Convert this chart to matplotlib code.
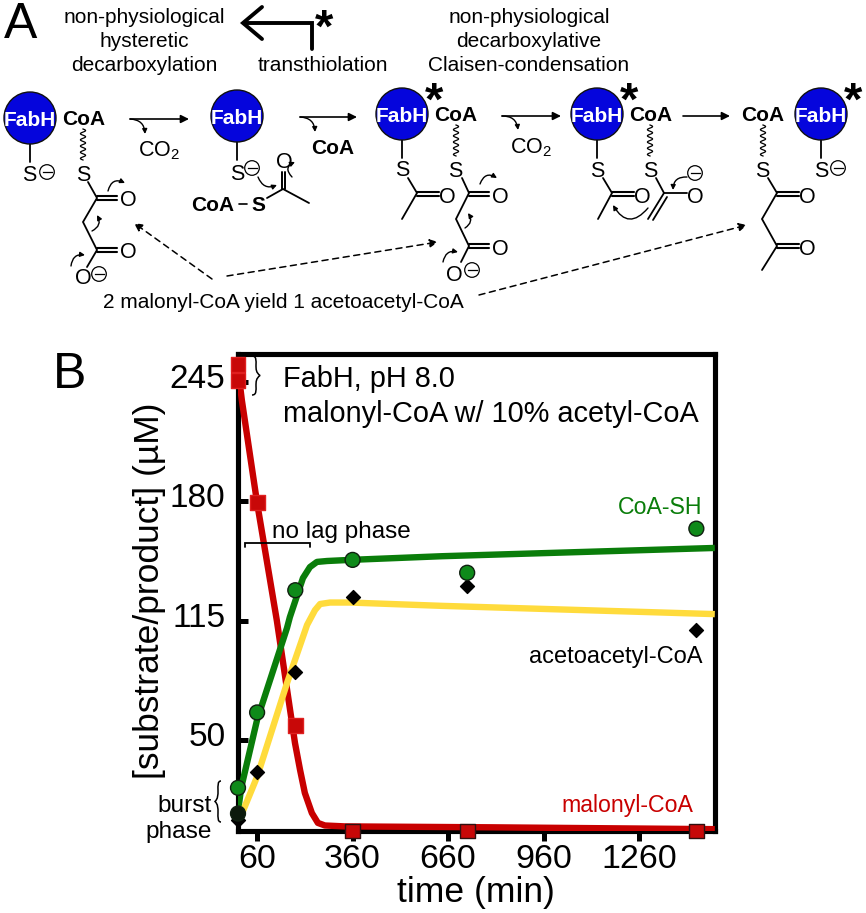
import numpy as np
import matplotlib
matplotlib.use("Agg")
import matplotlib.pyplot as plt
from matplotlib.patches import Circle, FancyArrowPatch, PathPatch
from matplotlib.path import Path
from matplotlib.transforms import ScaledTranslation

plt.rcParams['font.family'] = ['Liberation Sans', 'DejaVu Sans']
plt.rcParams['mathtext.default'] = 'regular'

# measured points, panel B
malonyl_t = [0, 0, 60, 180, 360, 720, 1440]
malonyl = [254.5, 245.5, 179, 58, 0.5, 0.5, 0.5]
malonyl_edge = ['#e02020', '#e02020', '#e02020', '#e02020', '#301010', '#301010', '#301010']
coash_t = [0, 0, 60, 180, 360, 720, 1440]
coash = [24, 10, 65, 131.5, 148, 141, 165]
coash_fill = ['#0f8a1a', '#0c1a0c', '#0f8a1a', '#0f8a1a', '#0f8a1a', '#0f8a1a', '#0f8a1a']
aceto_t = [0, 60, 180, 360, 720, 1440]
aceto = [6.5, 32.5, 87, 128, 134, 110]

# fitted curves, panel B
malonyl_fit_t = [0, 12, 60, 122, 179, 195, 210, 232, 251, 273, 336, 800, 1498]
malonyl_fit = [252, 235, 179, 115, 48.4, 33.7, 21.2, 10.3, 4.9, 3.5, 3, 2.5, 1.5]
coash_fit_t = [0, 10, 60, 154, 163, 204, 226, 248, 280, 352, 640, 1498]
coash_fit = [11, 24, 61, 111, 116.9, 138.1, 144.1, 146.9, 147.4, 148, 150, 154.5]
aceto_fit_t = [10, 60, 154, 217, 242, 258, 289, 352, 640, 1498]
aceto_fit = [9, 30, 81, 112.6, 120.7, 124, 124.8, 124.8, 123, 118.5]

x_ticks = [60, 360, 660, 960, 1260]
y_ticks = [50, 115, 180, 245]

FIG_W, FIG_H = 866, 913
L, R, T, B = 238, 715, 354, 831

fig = plt.figure(figsize=(FIG_W / 100, FIG_H / 100), dpi=100)

ax = fig.add_axes([L / FIG_W, 1 - B / FIG_H, (R - L) / FIG_W, (B - T) / FIG_H])
ax.set_xlim(0, (R - L) / 0.3183)
ax.set_ylim(0.5, (B - T) / 1.838 + 0.5)

ax.plot(malonyl_fit_t, malonyl_fit, color='#c80000', lw=4.6, solid_capstyle='butt',
        solid_joinstyle='round', zorder=3)
ax.plot(aceto_fit_t, aceto_fit, color='#ffdb3c', lw=4.6, solid_capstyle='butt',
        solid_joinstyle='round', zorder=3.2)
ax.plot(coash_fit_t, coash_fit, color='#0a7d0a', lw=4.6, solid_capstyle='butt',
        solid_joinstyle='round', zorder=3.1)

ax.scatter(aceto_t, aceto, marker='D', s=50, color='black', zorder=5, clip_on=False)
ax.scatter(coash_t, coash, marker='o', s=115, c=coash_fill, edgecolors='#102010',
           linewidths=1, zorder=6, clip_on=False)
ax.scatter(malonyl_t, malonyl, marker='s', s=115, color='#c80808', edgecolors=malonyl_edge,
           linewidths=1, zorder=7, clip_on=False)

for s in ax.spines.values():
    s.set_linewidth(3.7)
ax.set_xticks(x_ticks)
ax.set_yticks(y_ticks)
ax.tick_params(axis='x', direction='out', length=7, width=3.6, labelsize=24.5, pad=2)
ax.tick_params(axis='y', direction='in', length=7, width=3.6, labelsize=24, pad=9)
# y numbers sit a little above their ticks in the original
for lab in ax.get_yticklabels():
    lab.set_transform(lab.get_transform() + ScaledTranslation(0, 6 / 100, fig.dpi_scale_trans))
ax.set_xlabel('time (min)', fontsize=25.5)
ax.xaxis.set_label_coords((476 - L) / (R - L), -(902 - B) / (B - T))
ax.xaxis.label.set_va('baseline')
ax.set_ylabel('[substrate/product] (µM)', fontsize=25.5)
ax.yaxis.set_label_coords(-(238 - 159) / (R - L), (B - 591) / (B - T))
ax.yaxis.label.set_va('baseline')

# overlay in picture pixels for the scheme and the notes
ov = fig.add_axes([0, 0, 1, 1], zorder=10)
ov.set_xlim(0, FIG_W)
ov.set_ylim(FIG_H, 0)
ov.axis('off')
ov.patch.set_alpha(0)


def txt(x, y, s, size=15, ha='center', color='black', weight='normal'):
    return ov.text(x, y, s, fontsize=size, ha=ha, va='baseline', color=color, fontweight=weight)


def atom(x, y, s, size=15.5, weight='normal'):
    # y is the middle of the capital letter
    txt(x, y + 0.358 * size * 100 / 72, s, size=size, weight=weight)


def bonds(*segs, lw=1.3):
    for seg in segs:
        xs, ys = zip(*seg)
        ov.plot(xs, ys, color='black', lw=lw, solid_capstyle='round', solid_joinstyle='miter')


def double(x0, y0, x1, y1, gap=1.8):
    bonds([(x0, y0 - gap), (x1, y1 - gap)], [(x0, y0 + gap), (x1, y1 + gap)], lw=1.5)


def minus(x, y):
    ov.add_patch(Circle((x, y), 7.3, fc='white', ec='black', lw=0.9, zorder=4))
    ov.plot([x - 4.5, x + 4.5], [y, y], color='black', lw=0.9, zorder=5)


def star(x, y):
    # y is the middle of the asterisk
    txt(x, y + 23, '*', size=34, weight='bold')


def fabh(x, y, mark=False):
    ov.add_patch(Circle((x, y), 26, fc='#0505dc', ec='#101010', lw=1, zorder=3))
    ov.text(x, y + 7.5, 'FabH', fontsize=15, fontweight='bold', color='white', ha='center',
            va='baseline', zorder=4)
    bonds([(x, y + 26), (x, y + 44)])
    if mark:
        star(x + 32, y - 22)


def coa(x, y):
    atom(x, y, 'CoA', size=15, weight='bold')


def wavy(x, y0, y1):
    yy = np.linspace(y0, y1, 90)
    ov.plot(x + 2.6 * np.sin((yy - y0) / (y1 - y0) * 2 * np.pi * 5), yy, color='black', lw=0.9)


def curl(p0, p1, rad=0.4, lw=1.0):
    ov.add_patch(FancyArrowPatch(p0, p1, connectionstyle=f'arc3,rad={rad}', arrowstyle='-|>',
                                 mutation_scale=7, lw=lw, color='black', shrinkA=0, shrinkB=0))


def straight(p0, p1, ls='-', lw=1.2):
    ov.add_patch(FancyArrowPatch(p0, p1, arrowstyle='-|>', mutation_scale=12, lw=lw, ls=ls,
                                 color='black', shrinkA=0, shrinkB=0))


def brace(x, y0, y1, w, lw=1.1):
    # opens to the left for w > 0, to the right for w < 0
    m = (y0 + y1) / 2
    verts = [(x, y0), (x + w * 0.6, y0), (x + w * 0.5, y0 + 5), (x + w * 0.5, y0 + 9),
             (x + w * 0.5, m - 6), (x + w * 0.5, m - 3), (x + w, m),
             (x + w * 0.5, m + 3), (x + w * 0.5, m + 6), (x + w * 0.5, y1 - 9),
             (x + w * 0.5, y1 - 5), (x + w * 0.6, y1), (x, y1)]
    codes = [Path.MOVETO] + [Path.CURVE4] * 12
    ov.add_patch(PathPatch(Path(verts, codes), fc='none', ec='black', lw=lw))


# panel letters
txt(21, 38, 'A', size=36)
txt(70, 388, 'B', size=36)

# headings of panel A
txt(144, 23, 'non-physiological')
txt(144, 47, 'hysteretic')
txt(144, 71, 'decarboxylation')
txt(323, 71, 'transthiolation')
txt(529, 23, 'non-physiological')
txt(529, 47, 'decarboxylative')
txt(529, 71, 'Claisen-condensation')

bonds([(312, 49), (312, 23), (244, 23)], lw=2.8)
bonds([(262, 7), (243, 23), (262, 39)], lw=2.8)
star(324, 19)

# first species
fabh(30, 118)
atom(29, 173, 'S')
minus(47, 172)
coa(84, 118)
wavy(83, 129, 160)
atom(83, 173, 'S')
bonds([(88, 182), (97, 198), (83, 222), (97, 250), (87, 267)])
double(97, 198, 117, 198)
double(97, 250, 117, 250)
atom(128, 198, 'O')
atom(128, 250, 'O')
atom(83, 276, 'O')
minus(99, 274)
curl((108, 191), (125, 183), rad=-0.6)
curl((92, 231), (97, 215), rad=0.5)
curl((71, 266), (85, 255), rad=-0.5)

straight((130, 119), (189, 119))
curl((130, 119), (145, 134), rad=-0.45)
txt(159, 156, 'CO$_2$', size=15.5)

# second species
fabh(237, 116)
atom(237, 172, 'S')
minus(252, 168)
coa(333, 147)
atom(213, 204, 'CoA', size=15, weight='bold')
bonds([(239, 204), (247, 204)], lw=1.2)
atom(258, 204, 'S', size=15, weight='bold')
bonds([(267, 198), (283, 189), (309, 203)])
bonds([(281.5, 189), (281.5, 172)], [(285, 189), (285, 172)], lw=1.4)
atom(284, 160, 'O')
curl((258, 177), (277, 185), rad=0.5)
curl((292, 177), (295, 162), rad=-0.7)

straight((300, 117), (357, 117))
curl((300, 117), (315, 132), rad=-0.45)

# third species
fabh(402, 114, mark=True)
atom(402, 168, 'S')
bonds([(408, 178), (417, 193), (402, 219)])
double(417, 194, 439, 194)
atom(447, 195, 'O')
coa(456, 114)
wavy(456, 125, 156)
atom(455, 169, 'S')
bonds([(462, 178), (469, 193), (456, 219), (469, 246), (461, 262)])
double(469, 194, 489, 194)
double(469, 246, 489, 246)
atom(500, 195, 'O')
atom(500, 247, 'O')
atom(454, 273, 'O')
minus(472, 270)
curl((480, 184), (497, 178), rad=-0.6)
curl((465, 228), (468, 213), rad=0.5)
curl((443, 262), (458, 252), rad=-0.5)

straight((502, 116), (561, 116))
curl((502, 116), (518, 130), rad=-0.45)
txt(531, 153, 'CO$_2$', size=15.5)

# fourth species
fabh(597, 114, mark=True)
atom(597, 169, 'S')
bonds([(603, 178), (612, 193), (598, 219)])
double(612, 194, 634, 194)
atom(642, 195, 'O')
coa(651, 114)
wavy(650, 125, 156)
atom(650, 169, 'S')
bonds([(656, 178), (664, 193), (687, 193)])
bonds([(664, 193), (648, 219)], [(667, 197), (653, 220)])
atom(695, 195, 'O')
minus(695, 173)
curl((687, 177), (673, 190), rad=0.5)
curl((648, 208), (613, 205), rad=-0.7)

straight((683, 116), (730, 116))

# last species
coa(763, 114)
wavy(763, 125, 156)
atom(762, 169, 'S')
bonds([(768, 178), (777, 193), (762, 219), (777, 246), (762, 270)])
double(777, 194, 799, 194)
double(777, 246, 799, 246)
atom(807, 195, 'O')
atom(807, 247, 'O')
fabh(821, 114, mark=True)
atom(821, 169, 'S')
minus(838, 168)

txt(283, 308, '2 malonyl-CoA yield 1 acetoacetyl-CoA')
straight((212, 279), (134, 223), ls=(0, (4, 3)), lw=1.1)
straight((227, 276), (438, 242), ls=(0, (4, 3)), lw=1.1)
straight((479, 295), (747, 225), ls=(0, (4, 3)), lw=1.1)

# notes of panel B
txt(283, 387, 'FabH, pH 8.0', size=20.8, ha='left')
txt(283, 422, 'malonyl-CoA w/ 10% acetyl-CoA', size=20.8, ha='left')
brace(252, 356, 395, 8)
txt(272, 538, 'no lag phase', size=17.5, ha='left')
bonds([(245, 547), (245, 543), (310, 543), (310, 547)], lw=1.3)
txt(702, 514, 'CoA-SH', size=16.7, ha='right', color='#0a7d0a')
txt(702, 663, 'acetoacetyl-CoA', size=17, ha='right')
txt(693, 812, 'malonyl-CoA', size=16.7, ha='right', color='#c80000')
txt(212, 812, 'burst', size=17.6, ha='right')
txt(212, 838, 'phase', size=17.6, ha='right')
brace(221, 781, 822, -6)

fig.savefig('out.png', dpi=100)
